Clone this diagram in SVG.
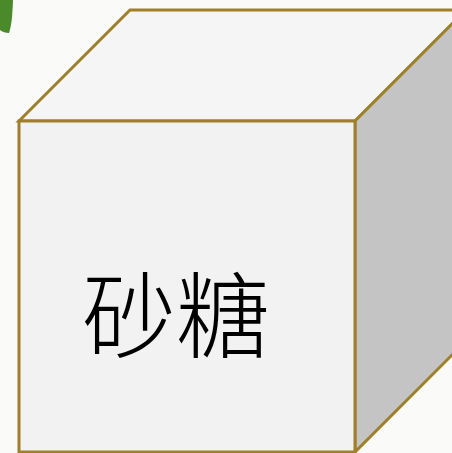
<svg xmlns="http://www.w3.org/2000/svg" width="452" height="453" viewBox="0 0 452 453">
  <style>
    .edge { stroke: #a07f2a; stroke-width: 3; stroke-linejoin: miter; }
    .label { font-family: "Noto Sans CJK SC", "Noto Sans CJK JP", sans-serif; font-size: 94px; font-weight: 300; fill: #000; }
  </style>
  <rect width="452" height="453" fill="#fafaf9"/>
  <!-- leaf tip in the corner -->
  <g id="leaf">
    <path d="M0,0 L13,0 C12.5,12 12,24 9,33 C6,33 2,32 0,30 Z" fill="#4a8a2a"/>
  </g>
  <g id="sugar-cube">
    <!-- top face -->
    <polygon class="edge" points="19,121 130,10 466,10 355,121" fill="#f5f5f5"/>
    <!-- right side face -->
    <polygon class="edge" points="355,121 466,10 466,341 355,452" fill="#c4c4c4"/>
    <!-- front face -->
    <rect class="edge" x="19" y="121" width="336" height="331" fill="#f2f2f2"/>
    <text class="label" x="176" y="351" text-anchor="middle">砂糖</text>
  </g>
</svg>
